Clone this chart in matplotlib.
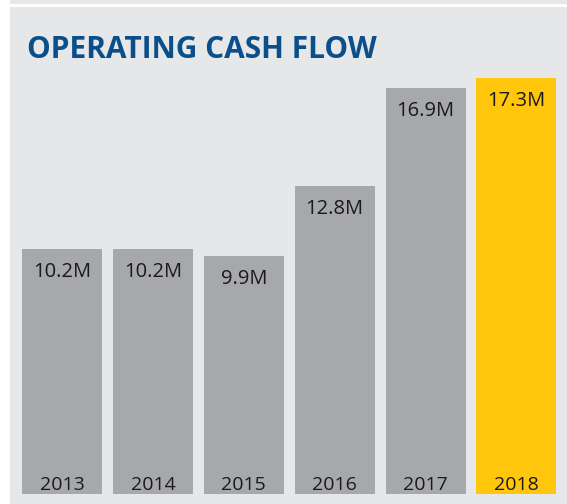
import matplotlib
matplotlib.use("Agg")
import matplotlib.pyplot as plt

years = ["2013", "2014", "2015", "2016", "2017", "2018"]
values = [10.2, 10.2, 9.9, 12.8, 16.9, 17.3]
value_labels = ["10.2M", "10.2M", "9.9M", "12.8M", "16.9M", "17.3M"]
title = "OPERATING CASH FLOW"

W, H = 567, 504
dpi = 100
fig = plt.figure(figsize=(W / dpi, H / dpi), dpi=dpi, facecolor="white")

bg = "#E6E7E9"
gray = "#A7A8AB"
yellow = "#FFC60B"
blue = "#0B4F8A"

# top strip
strip = fig.add_axes([10 / W, (H - 4) / H, 1 - 10 / W, 4 / H])
strip.set_axis_off()
strip.add_patch(plt.Rectangle((0, 0), 1, 1, transform=strip.transAxes, color=bg))

ax = fig.add_axes([10 / W, 0, 1 - 10 / W, (H - 7) / H])
ax.set_facecolor(bg)
pitch = 90.9
ppm = 24.05
ax.set_xlim(-52 / pitch, (557 - 52) / pitch)
ax.set_ylim(-10 / ppm, (497 - 10) / ppm)
for s in ax.spines.values():
    s.set_visible(False)
ax.set_xticks([])
ax.set_yticks([])

x = list(range(len(years)))
colors = [gray] * (len(years) - 1) + [yellow]
ax.bar(x, values, width=80 / pitch, color=colors, zorder=2)

font = "Open Sans"
for xi, v, lab, yr in zip(x, values, value_labels, years):
    ax.text(xi, v - 23 / ppm, lab, ha="center", va="center", fontsize=14.5,
            family=font, color="#1a1a1a", zorder=3)
    ax.text(xi, 9 / ppm, yr, ha="center", va="center", fontsize=14,
            family=font, color="#1a1a1a", zorder=3)

fig.text(27 / W, 1 - 58 / H, title, ha="left", va="baseline", fontsize=21.5,
         fontweight="bold", family=font, color=blue)

fig.savefig("out.png", dpi=dpi, facecolor="white")
